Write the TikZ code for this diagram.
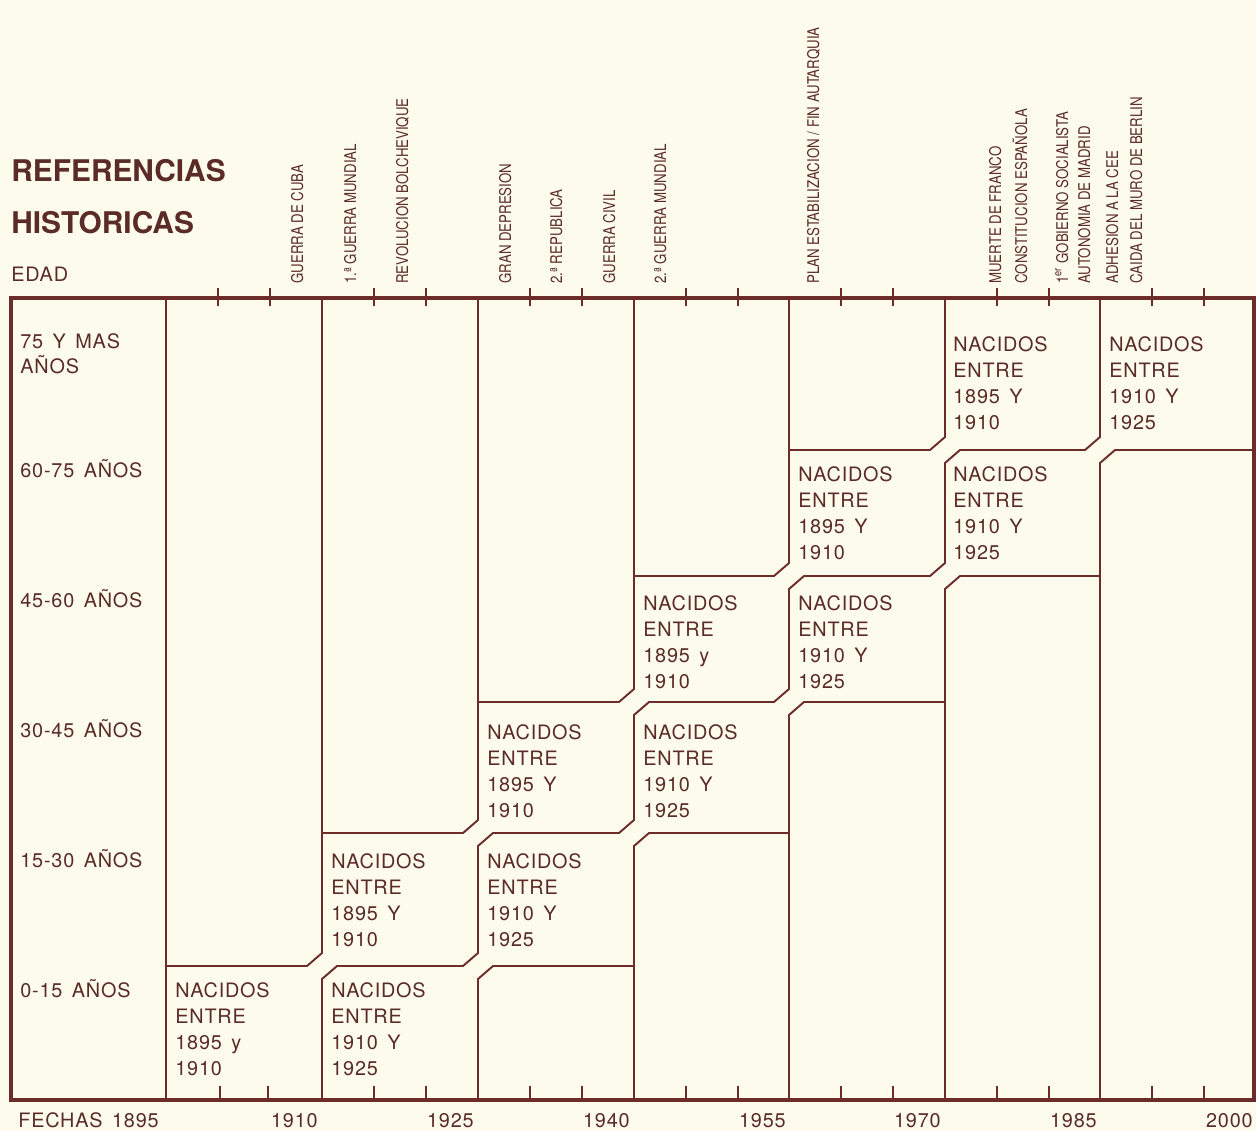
\documentclass[tikz,border=0pt]{standalone}
\usepackage{fontspec}
\setmainfont{TeX Gyre Heros}
\newfontfamily\edadfont[LetterSpace=4,WordSpace=1.5]{TeX Gyre Heros}
\newfontfamily\eventofont[FakeStretch=0.82]{TeX Gyre Heros}
\definecolor{papel}{HTML}{FCFBEC}
\definecolor{tinta}{HTML}{5B2B27}
\definecolor{linea}{HTML}{6B2C2A}

\begin{document}
\begin{tikzpicture}[x=0.02cm,y=-0.02cm,
  raya/.style={linea,line width=1.1pt},
  marco/.style={linea,line width=1.9pt},
  marca/.style={linea,line width=0.9pt},
  texto/.style={tinta,inner sep=0pt,anchor=base west,align=left,font=\edadfont\fontsize{11.3}{14.74}\selectfont},
  fecha/.style={tinta,inner sep=0pt,anchor=base east,font=\edadfont\fontsize{11.3}{14.74}\selectfont},
  evento/.style={tinta,inner sep=0pt,anchor=base west,rotate=90,font=\eventofont\fontsize{9.2}{11}\selectfont},
  titulo/.style={tinta,inner sep=0pt,anchor=base west,font=\bfseries\fontsize{17}{20}\selectfont}]
\useasboundingbox (0,0) rectangle (1256,1131);
\fill[papel] (0,0) rectangle (1256,1131);

\node[titulo] (ref) at (11,181.7) {REFERENCIAS};
\node[titulo] (hist) at (11,233.3) {HISTORICAS};
\node[texto] (edad) at (11,281.7) {EDAD};

\node[evento] (cuba) at (303,284) {GUERRA DE CUBA};
\node[evento] (gm1) at (356,284) {1.ª GUERRA MUNDIAL};
\node[evento] (bolch) at (408,284) {REVOLUCION BOLCHEVIQUE};
\node[evento] (depre) at (511,284) {GRAN DEPRESION};
\node[evento] (repu) at (562,284) {2.ª REPUBLICA};
\node[evento] (civil) at (615,284) {GUERRA CIVIL};
\node[evento] (gm2) at (666,284) {2.ª GUERRA MUNDIAL};
\node[evento] (plan) at (819,284) {PLAN ESTABILIZACION / FIN AUTARQUIA};
\node[evento] (franco) at (1001,284) {MUERTE DE FRANCO};
\node[evento] (const) at (1027,284) {CONSTITUCION ESPAÑOLA};
\node[evento] (psoe) at (1068,284) {1\textsuperscript{er} GOBIERNO SOCIALISTA};
\node[evento] (madrid) at (1090,284) {AUTONOMIA DE MADRID};
\node[evento] (cee) at (1118,284) {ADHESION A LA CEE};
\node[evento] (berlin) at (1142,284) {CAIDA DEL MURO DE BERLIN};

\draw[marco] (11,298) rectangle (1254,1100);
\draw[raya] (166,298) -- (166,1100);
\draw[raya] (322,298) -- (322,833);
\draw[raya] (478,298) -- (478,702);
\draw[raya] (634,298) -- (634,576) (634,966) -- (634,1100);
\draw[raya] (789,298) -- (789,450) (789,833) -- (789,1100);
\draw[raya] (945,702) -- (945,1100);
\draw[raya] (1100,576) -- (1100,1100);
\draw[raya] (166,966) -- (307,966) -- (322,953) -- (322,833) -- (463,833) -- (478,820) -- (478,702) -- (619,702) -- (634,689) -- (634,576) -- (774,576) -- (789,563) -- (789,450) -- (930,450) -- (945,437) -- (945,298);
\draw[raya] (322,1100) -- (322,979) -- (337,966) -- (463,966) -- (478,953) -- (478,846) -- (493,833) -- (619,833) -- (634,820) -- (634,715) -- (649,702) -- (774,702) -- (789,689) -- (789,589) -- (804,576) -- (930,576) -- (945,563) -- (945,463) -- (960,450) -- (1085,450) -- (1100,437) -- (1100,298);
\draw[raya] (478,1100) -- (478,979) -- (493,966) -- (634,966) -- (634,846) -- (649,833) -- (789,833) -- (789,715) -- (804,702) -- (945,702) -- (945,589) -- (960,576) -- (1100,576) -- (1100,463) -- (1115,450) -- (1254,450);

\draw[marca] (218,288) -- (218,306) (270,288) -- (270,306) (374,288) -- (374,306) (426,288) -- (426,306)
  (530,288) -- (530,306) (582,288) -- (582,306) (686,288) -- (686,306) (738,288) -- (738,306)
  (841,288) -- (841,306) (893,288) -- (893,306) (997,288) -- (997,306) (1049,288) -- (1049,306)
  (1152,288) -- (1152,306) (1204,288) -- (1204,306);
\draw[marca] (220,1086) -- (220,1100) (268,1086) -- (268,1100) (374,1086) -- (374,1100) (426,1086) -- (426,1100)
  (530,1086) -- (530,1100) (582,1086) -- (582,1100) (686,1086) -- (686,1100) (738,1086) -- (738,1100)
  (841,1086) -- (841,1100) (893,1086) -- (893,1100) (997,1086) -- (997,1100) (1049,1086) -- (1049,1100)
  (1152,1086) -- (1152,1100) (1204,1086) -- (1204,1100);

\node[texto] (e75) at (20,374) {75 Y MAS\\AÑOS};
\node[texto] (e60) at (20,477) {60-75 AÑOS};
\node[texto] (e45) at (20,607) {45-60 AÑOS};
\node[texto] (e30) at (20,737) {30-45 AÑOS};
\node[texto] (e15) at (20,867) {15-30 AÑOS};
\node[texto] (e0) at (20,997) {0-15 AÑOS};

\node[texto] (a1) at (175,1075) {NACIDOS\\ENTRE\\1895 y\\1910};
\node[texto] (a2) at (331,946) {NACIDOS\\ENTRE\\1895 Y\\1910};
\node[texto] (b2) at (331,1075) {NACIDOS\\ENTRE\\1910 Y\\1925};
\node[texto] (a3) at (487,817) {NACIDOS\\ENTRE\\1895 Y\\1910};
\node[texto] (b3) at (487,946) {NACIDOS\\ENTRE\\1910 Y\\1925};
\node[texto] (a4) at (643,688) {NACIDOS\\ENTRE\\1895 y\\1910};
\node[texto] (b4) at (643,817) {NACIDOS\\ENTRE\\1910 Y\\1925};
\node[texto] (a5) at (798,559) {NACIDOS\\ENTRE\\1895 Y\\1910};
\node[texto] (b5) at (798,688) {NACIDOS\\ENTRE\\1910 Y\\1925};
\node[texto] (a6) at (953,429) {NACIDOS\\ENTRE\\1895 Y\\1910};
\node[texto] (b6) at (953,559) {NACIDOS\\ENTRE\\1910 Y\\1925};
\node[texto] (b7) at (1109,429) {NACIDOS\\ENTRE\\1910 Y\\1925};

\node[texto] (fechas) at (18,1127) {FECHAS 1895};
\node[fecha] (f1910) at (318,1127) {1910};
\node[fecha] (f1925) at (474,1127) {1925};
\node[fecha] (f1940) at (630,1127) {1940};
\node[fecha] (f1955) at (786,1127) {1955};
\node[fecha] (f1970) at (941,1127) {1970};
\node[fecha] (f1985) at (1097,1127) {1985};
\node[fecha] (f2000) at (1253,1127) {2000};
\end{tikzpicture}
\end{document}
